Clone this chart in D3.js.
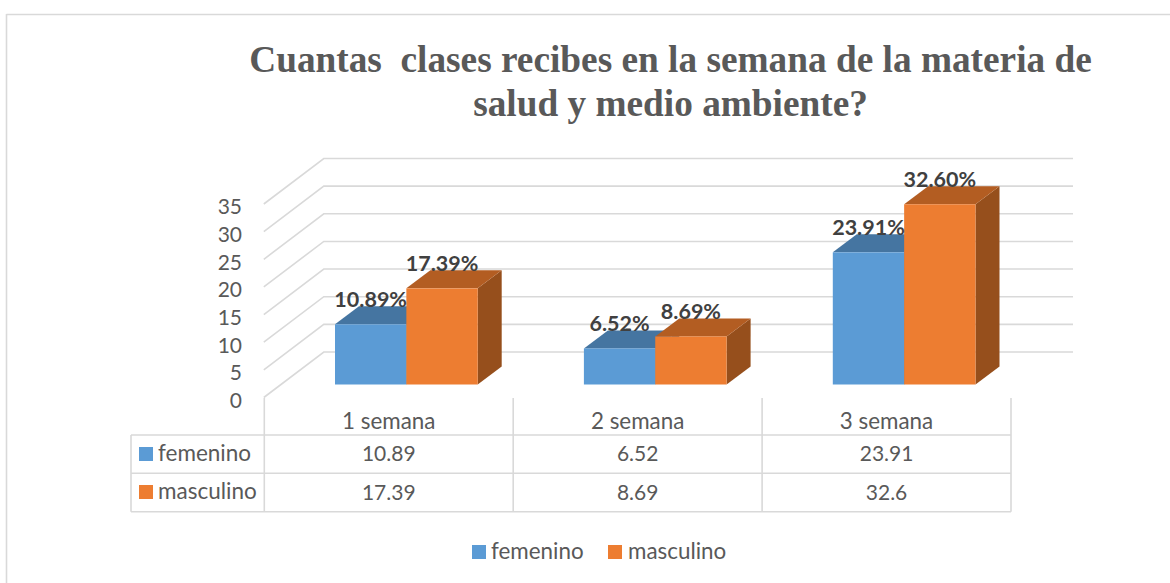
<!DOCTYPE html>
<html><head><meta charset="utf-8">
<script src="https://cdn.jsdelivr.net/npm/d3@7"></script>
<style>
html,body{margin:0;padding:0;background:#fff;overflow:hidden}
text{font-family:Lato,"Open Sans",sans-serif;fill:#595959;white-space:pre}
</style></head><body><svg id="c" width="1170" height="583"></svg>
<script>
const titleLines=["Cuantas  clases recibes en la semana de la materia de","salud y medio ambiente?"];
const categories=["1 semana","2 semana","3 semana"];
const seriesNames=["femenino","masculino"];
const femenino=[10.89,6.52,23.91];
const masculino=[17.39,8.69,32.6];
const seriesValues=[femenino,masculino];
const yTicks=[0,5,10,15,20,25,30,35];
const colors={femenino:{front:"#5b9bd5",top:"#4575a1",side:"#3f6f9b"},masculino:{front:"#ed7d31",top:"#b35d22",side:"#964f1c"}};

const svg=d3.select("#c");
const grid="#d9d9d9";
const y=d3.scaleLinear().domain([0,35]).range([384.5,191]);
const xCat=d3.scaleBand().domain(categories).range([264.3,1011]);
const tableLeft=131,rowTop=[435,473.3,511.7];
const backDx=60,backUp=32.5,frontDown=13,barDx=24,barDy=18,barInset=70.7,barsWidth=142.7;
const line=(x1,y1,x2,y2,w=1.6)=>svg.append("line").attr("x1",x1).attr("y1",y1).attr("x2",x2).attr("y2",y2).attr("stroke",grid).attr("stroke-width",w);

// chart frame
line(6.5,14.5,1170,14.5,1.3);line(6.5,14,6.5,583,1.6);

// title
svg.selectAll("text.title").data(titleLines).join("text").attr("class","title")
  .attr("x",670.5).attr("y",(d,i)=>i?115.5:72).attr("text-anchor","middle")
  .style("font-family","'Liberation Serif',serif").style("font-weight","700").style("font-size","37.3px").text(d=>d);

// 3D walls
const left=xCat.range()[0]-0.5, backX=left+backDx, backEnd=1073;
yTicks.forEach(t=>{
  svg.append("path").attr("fill","none").attr("stroke",grid).attr("stroke-width",1.6)
    .attr("d",d3.line()([[left,y(t)+frontDown],[backX,y(t)-backUp],[backEnd,y(t)-backUp]]));
});

// y axis labels
const yAxis=d3.axisLeft(y).tickValues(yTicks).tickSize(0).tickPadding(0);
const gy=svg.append("g").attr("transform",`translate(242,${frontDown+2.5})`).call(yAxis);
gy.select(".domain").remove();
gy.selectAll("text").style("font-size","21px").style("fill","#595959").attr("dy","0.35em");

// bars
const drawBar=(g,x0,w,v,c)=>{
  const t=y(v),b=y(0);
  g.append("path").attr("fill",c.side).attr("d",d3.line()([[x0+w,t],[x0+w+barDx,t-barDy],[x0+w+barDx,b-barDy],[x0+w,b]]));
  g.append("path").attr("fill",c.top).attr("d",d3.line()([[x0,t],[x0+barDx,t-barDy],[x0+w+barDx,t-barDy],[x0+w,t]]));
  g.append("rect").attr("x",x0).attr("y",t).attr("width",w).attr("height",b-t).attr("fill",c.front);
};
const barsG=svg.append("g"),labels=svg.append("g");
categories.forEach((cat,i)=>{
  const s0=xCat(cat)+barInset;
  const xs=d3.scaleBand().domain(seriesNames).range([s0,s0+barsWidth]);
  seriesNames.forEach((s,j)=>{
    const v=seriesValues[j][i];
    drawBar(barsG,xs(s),xs.bandwidth(),v,colors[s]);
    labels.append("text").attr("x",xs(s)+xs.bandwidth()/2).attr("y",y(v)-barDy+0.5).attr("text-anchor","middle")
      .style("font-size","21.5px").style("font-weight","700").style("fill","#404040").text(d3.format(".2f")(v)+"%");
  });
});

// data table
const colEdges=[...categories.map(c=>xCat(c)),xCat.range()[1]];
colEdges.forEach(x=>line(x,398,x,rowTop[2]));
line(tableLeft,rowTop[0],tableLeft,rowTop[2]);
rowTop.forEach(r=>line(tableLeft,r,xCat.range()[1],r));
categories.forEach((c,i)=>{
  const cx=xCat(c)+xCat.bandwidth()/2;
  svg.append("text").attr("x",cx).attr("y",429).attr("text-anchor","middle").style("font-size","22.4px").text(c);
  seriesNames.forEach((s,j)=>{
    svg.append("text").attr("x",cx).attr("y",[461,500][j]).attr("text-anchor","middle").style("font-size","21px").text(seriesValues[j][i]);
  });
});
seriesNames.forEach((s,j)=>{
  svg.append("rect").attr("x",139).attr("y",[447,485][j]).attr("width",14).attr("height",14).attr("fill",colors[s].front);
  svg.append("text").attr("x",158).attr("y",[461,499][j]).style("font-size","22.5px").text(s);
});

// legend
const legX=[472,608],legTx=[491,628];
seriesNames.forEach((s,j)=>{
  svg.append("rect").attr("x",legX[j]).attr("y",545).attr("width",14).attr("height",14).attr("fill",colors[s].front);
  svg.append("text").attr("x",legTx[j]).attr("y",559).style("font-size","22.4px").text(s);
});
</script></body></html>
